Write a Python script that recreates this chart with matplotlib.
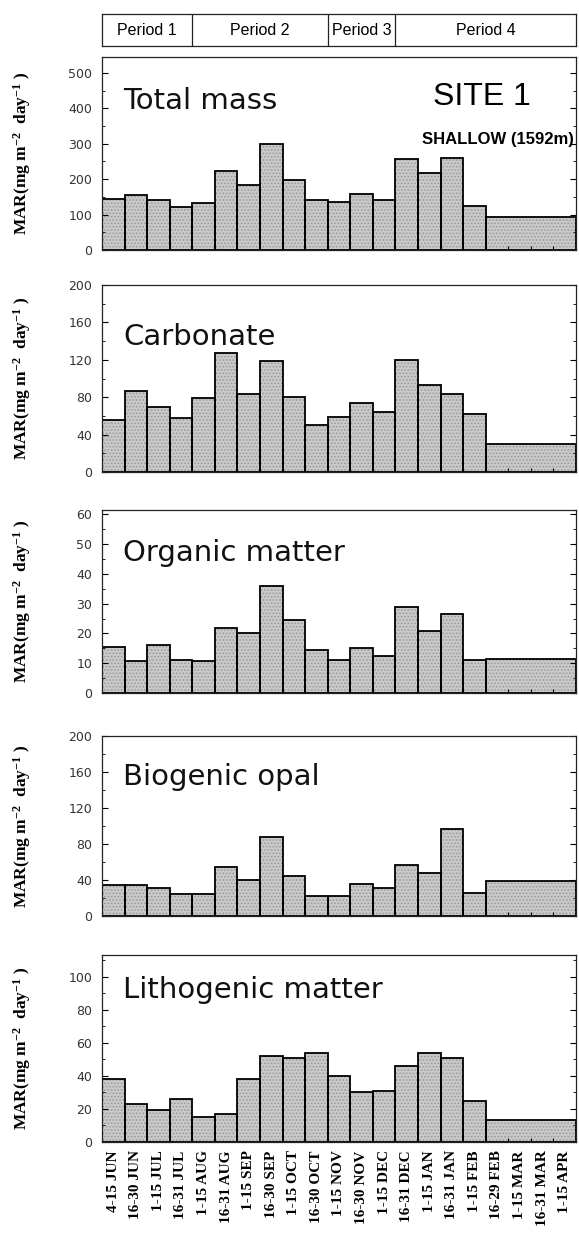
import matplotlib.pyplot as plt
import numpy as np
from matplotlib.ticker import AutoMinorLocator, MultipleLocator

# sampling intervals (x axis), the last bar of every panel covers the last N_MERGED intervals
periods = ["4-15 JUN", "16-30 JUN", "1-15 JUL", "16-31 JUL", "1-15 AUG", "16-31 AUG",
           "1-15 SEP", "16-30 SEP", "1-15 OCT", "16-30 OCT", "1-15 NOV", "16-30 NOV",
           "1-15 DEC", "16-31 DEC", "1-15 JAN", "16-31 JAN", "1-15 FEB", "16-29 FEB",
           "1-15 MAR", "16-31 MAR", "1-15 APR"]
N_MERGED = 4

# mass accumulation rates (mg m-2 day-1)
total_mass = [143, 156, 140, 121, 134, 223, 184, 299, 199, 142, 136, 158, 142, 256, 218, 259, 124, 94]
carbonate = [56, 87, 70, 58, 79, 127, 83, 119, 80, 50, 59, 74, 64, 120, 93, 83, 62, 30]
organic = [15.4, 10.8, 16, 11, 10.8, 21.8, 20.1, 36, 24.7, 14.5, 11.2, 15, 12.3, 28.9, 20.7, 26.4, 11.2, 11.3]
biogenic_opal = [34, 34, 31.5, 24, 24, 55, 40, 88, 44, 22, 22.5, 36, 31, 57, 48, 97, 25.5, 39]
lithogenic = [38, 23, 19.5, 26, 15, 17, 38, 52, 51, 54, 40, 30, 31, 46, 54, 51, 24.5, 13.5]

panel_names = ["Total mass", "Carbonate", "Organic matter", "Biogenic opal", "Lithogenic matter"]
panel_values = [total_mass, carbonate, organic, biogenic_opal, lithogenic]
panel_ylim = [545, 200, 61.5, 200, 113]
panel_ystep = [100, 40, 10, 40, 20]

# period bands on top: (label, first interval, last interval + 1)
period_names = ["Period 1", "Period 2", "Period 3", "Period 4"]
period_edges = [0, 4, 10, 13, 21]

W, H = 579, 1233
plt.rcParams['mathtext.fontset'] = 'custom'
plt.rcParams['mathtext.rm'] = 'Liberation Serif:bold'
plt.rcParams['mathtext.default'] = 'regular'
plt.rcParams['hatch.linewidth'] = 0.8

fig = plt.figure(figsize=(W / 100, H / 100), dpi=100)


def px_axes(left, top, right, bottom):
    return fig.add_axes([left / W, 1 - bottom / H, (right - left) / W, (bottom - top) / H])


AX_L, AX_R = 102, 576
panel_px = [(57, 250), (285, 472), (510, 693), (736, 916), (955, 1142)]
title_y = [0.73, 0.68, 0.72, 0.73, 0.77]

n_bars = len(total_mass)
widths = np.array([1] * (n_bars - 1) + [N_MERGED])
lefts = np.concatenate([[0], np.cumsum(widths)[:-1]])

for i, (name, vals) in enumerate(zip(panel_names, panel_values)):
    top, bottom = panel_px[i]
    ax = px_axes(AX_L, top, AX_R, bottom)
    # stippled fill, then black outlines
    ax.bar(lefts, vals, width=widths, align='edge', color='#cacaca',
           edgecolor='#9a9a9a', hatch='.....', linewidth=0)
    ax.bar(lefts, vals, width=widths, align='edge', facecolor='none',
           edgecolor='black', linewidth=1.3)
    ax.set_xlim(0, len(periods))
    ax.set_ylim(0, panel_ylim[i])
    ax.yaxis.set_major_locator(MultipleLocator(panel_ystep[i]))
    ax.yaxis.set_minor_locator(AutoMinorLocator(2))
    ax.set_yticks(np.arange(0, panel_ylim[i] + 0.01, panel_ystep[i]))
    ax.set_xticks(np.arange(len(periods) + 1))
    ax.set_xticklabels([])
    ax.set_xticks(np.arange(len(periods)) + 0.5, minor=True)
    if i == len(panel_names) - 1:
        ax.set_xticklabels(periods, minor=True, rotation=90, fontsize=11,
                           family='Liberation Serif', fontweight='bold', va='top')
    else:
        ax.set_xticklabels([], minor=True)
    ax.tick_params(axis='x', which='major', direction='in', length=3, width=0.8)
    ax.tick_params(axis='x', which='minor', length=0, pad=6)
    ax.tick_params(axis='y', which='both', direction='in', left=True, right=True,
                   labelsize=9, labelcolor='#333333', pad=7)
    ax.tick_params(axis='y', which='major', length=4, width=0.8)
    ax.tick_params(axis='y', which='minor', length=2, width=0.6)
    for sp in ax.spines.values():
        sp.set_linewidth(0.9)
        sp.set_color('#222222')
    ax.text(0.045, title_y[i], name, transform=ax.transAxes, fontsize=21,
            family='DejaVu Sans', color='#111111', va='baseline')
    fig.text(22 / W, 1 - (top + bottom) / 2 / H, r"MAR(mg m$^{-2}$  day$^{-1}$ )",
             rotation=90, ha='center', va='center', fontsize=12.5,
             family='Liberation Serif', fontweight='bold')
    if i == 0:
        ax.text(0.905, 0.75, "SITE 1", transform=ax.transAxes, fontsize=23,
                family='Liberation Sans', ha='right', va='baseline')
        ax.text(0.995, 0.55, "SHALLOW (1592m)", transform=ax.transAxes, fontsize=12,
                family='Liberation Sans', fontweight='bold', ha='right', va='baseline')

# period band
axp = px_axes(AX_L, 14, AX_R, 46)
axp.set_xlim(0, len(periods))
axp.set_ylim(0, 1)
axp.set_xticks([])
axp.set_yticks([])
for sp in axp.spines.values():
    sp.set_linewidth(0.9)
    sp.set_color('#222222')
for name, a, b in zip(period_names, period_edges[:-1], period_edges[1:]):
    if a > 0:
        axp.axvline(a, color='#222222', linewidth=0.9)
    axp.text((a + b) / 2, 0.47, name, ha='center', va='center', fontsize=11.5,
             family='Liberation Sans')

fig.savefig('out.png', dpi=100)
